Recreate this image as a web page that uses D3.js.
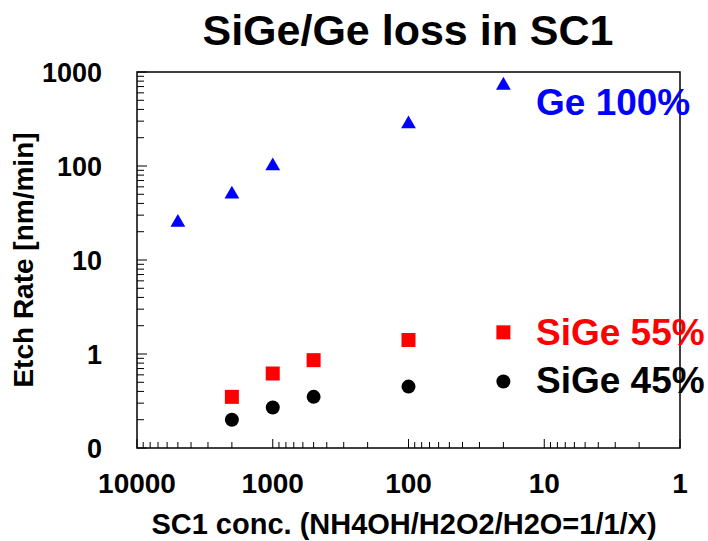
<!DOCTYPE html>
<html>
<head>
<meta charset="utf-8">
<script src="https://cdn.jsdelivr.net/npm/d3@7"></script>
<style>
  html, body { margin: 0; padding: 0; background: #fff; }
  svg text { font-family: "Liberation Sans", Arial, sans-serif; font-weight: bold; }
</style>
</head>
<body>
<svg id="chart" width="708" height="541"></svg>
<script>
// SC1 dilution ratio X (NH4OH/H2O2/H2O = 1/1/X)
const dilution = [5000, 2000, 1000, 500, 100, 20];

// Etch rates [nm/min]
const geX = [5000, 2000, 1000, 100, 20];
const geRate = [25, 50, 100, 280, 720];

const sige55X = [2000, 1000, 500, 100, 20];
const sige55Rate = [0.35, 0.62, 0.86, 1.41, 1.7];

const sige45X = [2000, 1000, 500, 100, 20];
const sige45Rate = [0.2, 0.27, 0.35, 0.45, 0.51];

// Axis tick labels
const xTickValues = [10000, 1000, 100, 10, 1];
const xTickLabels = ["10000", "1000", "100", "10", "1"];
const yTickValues = [1000, 100, 10, 1, 0.1];
const yTickLabels = ["1000", "100", "10", "1", "0"];

const svg = d3.select("#chart");
const margin = { left: 137, right: 28, top: 72, bottom: 93 };
const W = 708, H = 541;
const plotW = W - margin.left - margin.right;
const plotH = H - margin.top - margin.bottom;

const x = d3.scaleLog().domain([10000, 1]).range([0, plotW]);
const y = d3.scaleLog().domain([0.1, 1000]).range([plotH, 0]);

const g = svg.append("g").attr("transform", `translate(${margin.left},${margin.top})`);

// minor + major ticks, pointing into the plot
function logTicks(lo, hi) {
  const out = [];
  for (let d = lo; d < hi; d *= 10) {
    for (let k = 1; k <= 9; k++) out.push({ v: d * k, major: k === 1 });
  }
  out.push({ v: hi, major: true });
  return out;
}

const yTicks = logTicks(0.1, 1000);
g.selectAll("line.yt").data(yTicks).join("line")
  .attr("class", "yt")
  .attr("x1", 0).attr("x2", d => d.major ? 10 : 7)
  .attr("y1", d => y(d.v)).attr("y2", d => y(d.v))
  .attr("stroke", "#000").attr("stroke-width", 1);

const xTicks = logTicks(1, 10000);
g.selectAll("line.xt").data(xTicks).join("line")
  .attr("class", "xt")
  .attr("y1", plotH).attr("y2", d => plotH - (d.major ? 9 : 6))
  .attr("x1", d => x(d.v)).attr("x2", d => x(d.v))
  .attr("stroke", "#000").attr("stroke-width", 1);

// frame
g.append("rect")
  .attr("x", 0).attr("y", 0).attr("width", plotW).attr("height", plotH)
  .attr("fill", "none").attr("stroke", "#000").attr("stroke-width", 1.5);

// tick labels
g.selectAll("text.yl").data(yTickValues).join("text")
  .attr("class", "yl")
  .attr("x", -35).attr("y", d => y(d))
  .attr("dy", "0.36em")
  .attr("text-anchor", "end")
  .attr("font-size", 27)
  .text((d, i) => yTickLabels[i]);

g.selectAll("text.xl").data(xTickValues).join("text")
  .attr("class", "xl")
  .attr("x", d => x(d)).attr("y", plotH + 45)
  .attr("text-anchor", "middle")
  .attr("font-size", 28)
  .text((d, i) => xTickLabels[i]);

// axis titles
svg.append("text")
  .attr("x", 404).attr("y", 534)
  .attr("text-anchor", "middle").attr("font-size", 29)
  .text("SC1 conc. (NH4OH/H2O2/H2O=1/1/X)");

svg.append("text")
  .attr("transform", `translate(33,${margin.top + plotH / 2}) rotate(-90)`)
  .attr("text-anchor", "middle").attr("font-size", 28)
  .text("Etch Rate [nm/min]");

// title
svg.append("text")
  .attr("x", 408).attr("y", 45)
  .attr("text-anchor", "middle").attr("font-size", 43)
  .text("SiGe/Ge loss in SC1");

// Ge 100% : triangles
const tri = d3.symbol().type(d3.symbolTriangle).size(95);
g.selectAll("path.ge").data(geX.map((v, i) => [v, geRate[i]])).join("path")
  .attr("class", "ge")
  .attr("transform", d => `translate(${x(d[0])},${y(d[1])})`)
  .attr("d", tri)
  .attr("fill", "#0000ff");

// SiGe 55% : squares
const sq = 14;
g.selectAll("rect.s55").data(sige55X.map((v, i) => [v, sige55Rate[i]])).join("rect")
  .attr("class", "s55")
  .attr("x", d => x(d[0]) - sq / 2).attr("y", d => y(d[1]) - sq / 2)
  .attr("width", sq).attr("height", sq)
  .attr("fill", "#ff0000");

// SiGe 45% : circles
g.selectAll("circle.s45").data(sige45X.map((v, i) => [v, sige45Rate[i]])).join("circle")
  .attr("class", "s45")
  .attr("cx", d => x(d[0])).attr("cy", d => y(d[1]))
  .attr("r", 7)
  .attr("fill", "#000");

// series labels
const labels = [
  { text: "Ge 100%", color: "#0000ff", yy: 115 },
  { text: "SiGe 55%", color: "#ff0000", yy: 345 },
  { text: "SiGe 45%", color: "#000000", yy: 393 }
];
svg.selectAll("text.lab").data(labels).join("text")
  .attr("class", "lab")
  .attr("x", 536).attr("y", d => d.yy)
  .attr("font-size", 37)
  .attr("fill", d => d.color)
  .text(d => d.text);
</script>
</body>
</html>
